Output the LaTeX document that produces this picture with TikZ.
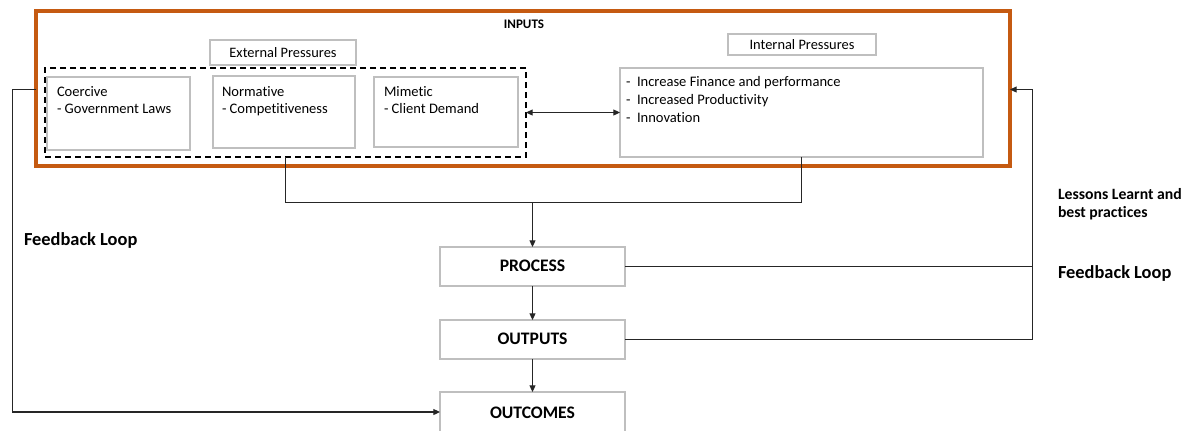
\documentclass[tikz,border=0pt]{standalone}
\usepackage{fontspec}
\setmainfont{Carlito}[Ligatures=NoCommon]
\usetikzlibrary{arrows.meta,fit}
\definecolor{inputorange}{HTML}{C55A11}
\definecolor{boxgray}{HTML}{BFBFBF}
\definecolor{linegray}{HTML}{262626}
\begin{document}
\begin{tikzpicture}[x=0.75pt,y=-0.75pt,
  every node/.style={inner sep=0pt, outer sep=0pt},
  lightbox/.style={draw=boxgray, line width=0.9pt},
  stagebox/.style={draw=boxgray, line width=2pt, fill=white},
  dashbox/.style={draw=black, dashed, dash pattern=on 4.5pt off 3pt, line width=1.3pt},
  conn/.style={draw=linegray, line width=0.8pt},
  arr/.style={conn, -{Triangle[length=5pt,width=4.5pt]}},
  boxtext/.style={anchor=north west, align=left, font=\fontsize{10.9}{13.2}\selectfont},
  stagetext/.style={font=\fontsize{13.2}{15}\selectfont\bfseries},
  sidetext/.style={anchor=west, align=left, font=\fontsize{11.8}{13.8}\selectfont\bfseries},
  looptext/.style={anchor=west, font=\fontsize{13.8}{16}\selectfont\bfseries}]
\useasboundingbox (0,0) rectangle (1189,430);

% inputs frame
\node[draw=inputorange, line width=2.3pt, fit={(36,11) (1010,166)}] (inputs) {};
\node[font=\fontsize{9.8}{11}\selectfont\bfseries] (inlabel) at (524,24.5) {INPUTS};

% external pressures
\node[lightbox, fit={(210,40) (356,65)}] (extbox) {};
\node[font=\fontsize{10.8}{12}\selectfont] (extlabel) at (extbox.center) {External Pressures};
\node[dashbox, fit={(45,68) (526,157)}] (dash) {};
\node[lightbox, fit={(47,77) (190,150)}] (coer) {};
\node[lightbox, fit={(213,76) (355,148)}] (norm) {};
\node[lightbox, fit={(374,77) (518,147)}] (mim) {};
\node[boxtext] (coertxt) at (57,86) {Coercive\\- Government Laws};
\node[boxtext] (normtxt) at (222,86) {Normative\\- Competitiveness};
\node[boxtext] (mimtxt) at (384,86) {Mimetic\\- Client Demand};

% internal pressures
\node[lightbox, fit={(728,34) (876,55)}] (intbox) {};
\node[font=\fontsize{10.8}{12}\selectfont] (intlabel) at (intbox.center) {Internal Pressures};
\node[lightbox, fit={(620,68) (983,157)}] (intern) {};
\node[boxtext, font=\fontsize{10.9}{13.5}\selectfont] (inttxt) at (626,76.5) {-\ \ Increase Finance and performance\\-\ \ Increased Productivity\\-\ \ Innovation};

% stages
\node[stagebox, fit={(440,247) (625,286)}] (proc) {};
\node[stagetext] at ([yshift=0.5pt]proc.center) {PROCESS};
\node[stagebox, fit={(440,320) (625,359)}] (outp) {};
\node[stagetext] at ([yshift=0.5pt]outp.center) {OUTPUTS};
\node[stagebox, fit={(440,392) (625,432)}] (outc) {};
\node[stagetext] at ([yshift=-0.5pt]outc.center) {OUTCOMES};

% side labels
\node[looptext] (fbleft) at (24,240) {Feedback Loop};
\node[sidetext] (lessons) at (1058,204) {Lessons Learnt and\\best practices};
\node[looptext] (fbright) at (1058,273) {Feedback Loop};

% connectors
\coordinate (merge) at (532.5,202.5);
\draw[conn, {Triangle[length=5pt,width=4.5pt]}-{Triangle[length=5pt,width=4.5pt]}] (dash.east) -- (intern.west);
\draw[conn] (dash.south) -- (dash.south |- merge) -- (intern.south |- merge) -- (intern.south);
\draw[arr] (merge) -- (proc.north);
\draw[arr] (proc.south) -- (outp.north);
\draw[arr] (outp.south) -- (outc.north);

\coordinate (fbL) at (12.5,89.5);
\coordinate (fbR) at (1032.5,89.5);
\draw[arr] (fbL -| inputs.west) -- (fbL) |- (outc.west);
\draw[arr] (outp.east) -| (fbR) -- (fbR -| inputs.east);
\draw[conn] (proc.east) -- (proc.east -| fbR);
\end{tikzpicture}
\end{document}
